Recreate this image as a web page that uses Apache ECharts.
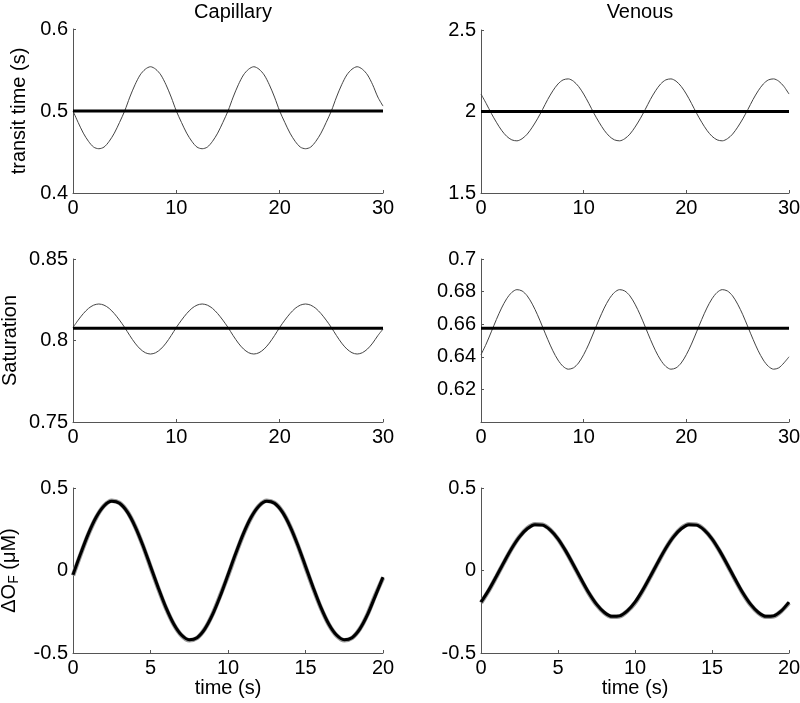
<!DOCTYPE html>
<html><head><meta charset="utf-8">
<script src="https://cdn.jsdelivr.net/npm/echarts@6/dist/echarts.min.js"></script>
<style>html,body{margin:0;padding:0;background:#fff}#c{width:800px;height:703px}</style>
</head><body><div id="c"></div>
<script>
// ---- data ----
const t30 = [0,0.5,1,1.5,2,2.5,3,3.5,4,4.5,5,5.5,6,6.5,7,7.5,8,8.5,9,9.5,10,10.5,11,11.5,12,12.5,13,13.5,14,14.5,15,15.5,16,16.5,17,17.5,18,18.5,19,19.5,20,20.5,21,21.5,22,22.5,23,23.5,24,24.5,25,25.5,26,26.5,27,27.5,28,28.5,29,29.5,30];
const t20 = [0,0.5,1,1.5,2,2.5,3,3.5,4,4.5,5,5.5,6,6.5,7,7.5,8,8.5,9,9.5,10,10.5,11,11.5,12,12.5,13,13.5,14,14.5,15,15.5,16,16.5,17,17.5,18,18.5,19,19.5,20];

const capTransit = [0.5,0.486,0.473,0.463,0.456,0.454,0.456,0.463,0.473,0.486,0.5,0.517,0.532,0.544,0.551,0.554,0.551,0.544,0.532,0.517,
 0.5,0.486,0.473,0.463,0.456,0.454,0.456,0.463,0.473,0.486,0.5,0.517,0.532,0.544,0.551,0.554,0.551,0.544,0.532,0.517,
 0.5,0.486,0.473,0.463,0.456,0.454,0.456,0.463,0.473,0.486,0.5,0.517,0.532,0.544,0.551,0.554,0.551,0.544,0.532,0.517,0.506];
const capTransitBase = 0.5;

const venTransit = [2.107,2.050,1.989,1.934,1.885,1.848,1.826,1.820,1.833,1.861,1.904,1.955,2.013,2.074,2.127,2.169,2.194,2.200,2.186,2.154,
 2.107,2.050,1.989,1.934,1.885,1.848,1.826,1.820,1.833,1.861,1.904,1.955,2.013,2.074,2.127,2.169,2.194,2.200,2.186,2.154,
 2.107,2.050,1.989,1.934,1.885,1.848,1.826,1.820,1.833,1.861,1.904,1.955,2.013,2.074,2.127,2.169,2.194,2.200,2.186,2.154,2.107];
const venTransitBase = 2.0;

const capSat = [0.808,0.8125,0.8165,0.8197,0.8217,0.8224,0.8217,0.8197,0.8165,0.8125,0.808,0.8030,0.7984,0.7948,0.7925,0.7917,0.7925,0.7948,0.7984,0.8030,
 0.808,0.8125,0.8165,0.8197,0.8217,0.8224,0.8217,0.8197,0.8165,0.8125,0.808,0.8030,0.7984,0.7948,0.7925,0.7917,0.7925,0.7948,0.7984,0.8030,
 0.808,0.8125,0.8165,0.8197,0.8217,0.8224,0.8217,0.8197,0.8165,0.8125,0.808,0.8030,0.7984,0.7948,0.7925,0.7917,0.7925,0.7948,0.7984,0.8030,0.807];
const capSatBase = 0.8075;

const venSat = [0.6413,0.6478,0.6553,0.6629,0.6699,0.6756,0.6795,0.6812,0.6804,0.6774,0.6723,0.6658,0.6583,0.6507,0.6437,0.6380,0.6341,0.6324,0.6332,0.6362,
 0.6413,0.6478,0.6553,0.6629,0.6699,0.6756,0.6795,0.6812,0.6804,0.6774,0.6723,0.6658,0.6583,0.6507,0.6437,0.6380,0.6341,0.6324,0.6332,0.6362,
 0.6413,0.6478,0.6553,0.6629,0.6699,0.6756,0.6795,0.6812,0.6804,0.6774,0.6723,0.6658,0.6583,0.6507,0.6437,0.6380,0.6341,0.6324,0.6332,0.6362,0.6400];
const venSatBase = 0.6575;

const capDO = [-0.026,0.104,0.225,0.324,0.391,0.419,0.407,0.355,0.268,0.155,0.026,-0.104,-0.225,-0.324,-0.391,-0.419,-0.407,-0.355,-0.268,-0.155,
 -0.026,0.104,0.225,0.324,0.391,0.419,0.407,0.355,0.268,0.155,0.026,-0.104,-0.225,-0.324,-0.391,-0.419,-0.407,-0.355,-0.268,-0.155,-0.040];
const capDOgray = [-0.030,0.100,0.222,0.322,0.392,0.423,0.410,0.357,0.268,0.153,0.022,-0.108,-0.228,-0.326,-0.393,-0.423,-0.409,-0.355,-0.266,-0.151,
 -0.030,0.100,0.222,0.322,0.392,0.423,0.410,0.357,0.268,0.153,0.022,-0.108,-0.228,-0.326,-0.393,-0.423,-0.409,-0.355,-0.266,-0.151,-0.045];

const venDO = [-0.192,-0.119,-0.035,0.052,0.135,0.204,0.253,0.278,0.275,0.245,0.192,0.119,0.035,-0.052,-0.135,-0.204,-0.253,-0.278,-0.275,-0.245,
 -0.192,-0.119,-0.035,0.052,0.135,0.204,0.253,0.278,0.275,0.245,0.192,0.119,0.035,-0.052,-0.135,-0.204,-0.253,-0.278,-0.275,-0.245,-0.192];
const venDOgray = [-0.196,-0.122,-0.037,0.050,0.134,0.205,0.256,0.281,0.278,0.246,0.191,0.117,0.033,-0.055,-0.138,-0.207,-0.256,-0.281,-0.278,-0.246,
 -0.196,-0.122,-0.037,0.050,0.134,0.205,0.256,0.281,0.278,0.246,0.191,0.117,0.033,-0.055,-0.138,-0.207,-0.256,-0.281,-0.278,-0.246,-0.196];

const colTitles = ['Capillary', 'Venous'];
const yNames = ['transit time (s)', 'Saturation', '{a|ΔO}{s|F}{a| (μM)}'];
const xName = 'time (s)';

// ---- chart ----
const FF = '"Liberation Sans", Arial, sans-serif';
const pairs = (t, v) => t.map((x, i) => [x, v[i]]);
const hline = (t, b) => [[t[0], b], [t[t.length - 1], b]];

const grids = [
  {left: 73, top: 29, width: 310, height: 164},
  {left: 481, top: 30, width: 308, height: 163},
  {left: 73, top: 259, width: 310, height: 163},
  {left: 481, top: 259, width: 308, height: 163},
  {left: 73, top: 488, width: 310, height: 165},
  {left: 481, top: 488, width: 308, height: 165}
].map(g => Object.assign(g, {containLabel: false, outerBoundsMode: 'none'}));

const axisCommon = {
  axisLine: {show: true, onZero: false, lineStyle: {color: '#555', width: 1}},
  axisTick: {show: true, inside: true, length: 3, lineStyle: {color: '#555', width: 1}},
  splitLine: {show: false},
  axisLabel: {color: '#000', fontSize: 20, fontFamily: FF, margin: 5}
};

function xAx(i, max, interval, withName) {
  const a = Object.assign({type: 'value', gridIndex: i, min: 0, max: max, interval: interval}, JSON.parse(JSON.stringify(axisCommon)));
  a.axisLabel.showMaxLabel = true; a.axisLabel.showMinLabel = true;
  if (withName) {
    a.name = xName; a.nameLocation = 'middle'; a.nameGap = 19;
    a.nameTextStyle = {color: '#000', fontSize: 20, fontFamily: FF};
  }
  return a;
}
function yAx(i, min, max, interval, name, gap, fmt) {
  const a = Object.assign({type: 'value', gridIndex: i, min: min, max: max, interval: interval}, JSON.parse(JSON.stringify(axisCommon)));
  if (fmt) a.axisLabel.formatter = fmt;
  if (name) {
    a.name = name; a.nameLocation = 'middle'; a.nameGap = gap; a.nameRotate = 90;
    a.nameTextStyle = {color: '#000', fontSize: 20, fontFamily: FF,
      rich: {
        a: {fontSize: 20, fontFamily: FF, color: '#000', verticalAlign: 'top', lineHeight: 22},
        s: {fontSize: 14, fontFamily: FF, color: '#000', verticalAlign: 'bottom', lineHeight: 14, padding: [14, 0, 0, 0]}
      }};
  }
  return a;
}

const thin = {type: 'line', showSymbol: false, smooth: 0.3, lineStyle: {color: '#444', width: 1}, silent: true};
const thick = {type: 'line', showSymbol: false, smooth: 0.3, lineStyle: {color: '#000', width: 3}, silent: true};
const grayThick = {type: 'line', showSymbol: false, smooth: 0.3, lineStyle: {color: '#999', width: 4.5}, silent: true};
const S = (base, i, data) => Object.assign({}, base, {xAxisIndex: i, yAxisIndex: i, data: data, lineStyle: Object.assign({}, base.lineStyle)});

const option = {
  animation: false,
  backgroundColor: '#fff',
  title: [
    {text: colTitles[0], left: 228, top: -3, textAlign: 'center', textStyle: {fontSize: 20, fontWeight: 'normal', color: '#000', fontFamily: FF}},
    {text: colTitles[1], left: 635, top: -3, textAlign: 'center', textStyle: {fontSize: 20, fontWeight: 'normal', color: '#000', fontFamily: FF}}
  ],
  grid: grids,
  xAxis: [xAx(0, 30, 10), xAx(1, 30, 10), xAx(2, 30, 10), xAx(3, 30, 10), xAx(4, 20, 5, true), xAx(5, 20, 5, true)],
  yAxis: [
    yAx(0, 0.4, 0.6, 0.1, yNames[0], 44),
    yAx(1, 1.5, 2.5, 0.5),
    yAx(2, 0.75, 0.85, 0.05, yNames[1], 53),
    yAx(3, 0.6, 0.7, 0.02, null, 0, v => Math.abs(v - 0.6) < 1e-9 ? '' : String(+v.toFixed(2))),
    yAx(4, -0.5, 0.5, 0.5, yNames[2], 52),
    yAx(5, -0.5, 0.5, 0.5)
  ],
  series: [
    S(thin, 0, pairs(t30, capTransit)), S(thick, 0, hline(t30, capTransitBase)),
    S(thin, 1, pairs(t30, venTransit)), S(thick, 1, hline(t30, venTransitBase)),
    S(thin, 2, pairs(t30, capSat)), S(thick, 2, hline(t30, capSatBase)),
    S(thin, 3, pairs(t30, venSat)), S(thick, 3, hline(t30, venSatBase)),
    S(grayThick, 4, pairs(t20, capDOgray)), S(thick, 4, pairs(t20, capDO)),
    S(grayThick, 5, pairs(t20, venDOgray)), S(thick, 5, pairs(t20, venDO))
  ]
};
const chart = echarts.init(document.getElementById('c'), null, {renderer: 'canvas'});
chart.setOption(option);
</script></body></html>
